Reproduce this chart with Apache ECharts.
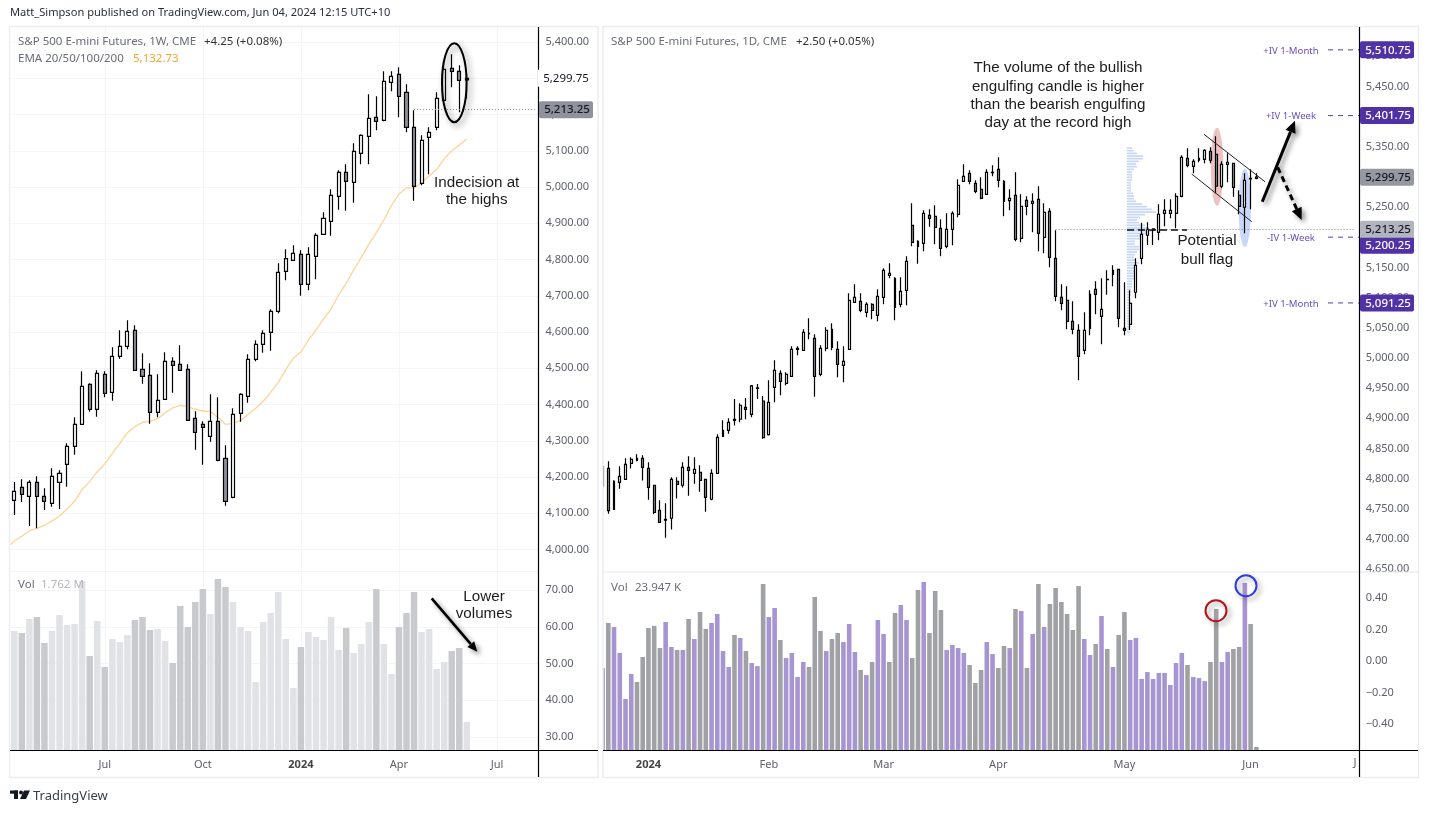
<!DOCTYPE html>
<html>
<head>
<meta charset="utf-8">
<title>S&amp;P 500 E-mini Futures</title>
<script src="https://cdn.jsdelivr.net/npm/echarts@6/dist/echarts.min.js"></script>
<style>
html, body { margin: 0; padding: 0; background: #fff; }
#chart { width: 1429px; height: 813px; }
</style>
</head>
<body>
<div id="chart"></div>
<script>
// weekly chart (left)
const weekOpen = [4135.7,4171.5,4146.7,4185.3,4146.7,4127.4,4185.3,4235,4284.6,4345.3,
  4455.6,4386.7,4483.2,4433.6,4532.9,4560.5,4604.6,4497,4480.5,4378.4,
  4414.3,4519.1,4510.8,4497,4361.9,4345.3,4312.2,4353.6,4251.5,4143.9,
  4375.7,4422.5,4524.6,4566,4599.1,4657,4767.4,4797.7,4814.3,4731.5,
  4808.8,4869.4,4905.3,4974.3,5040.5,5012.9,5092.9,5139.8,5192.2,5183.9,
  5288.7,5310.8,5261.2,5164.6,5010.1,5137,5164.6,5239.1,5327.4,5319.1,5295.5];
const weekClose = [4160.5,4152.2,4185.3,4146.7,4132.9,4201.9,4210.1,4284.6,4345.3,4450.1,
  4386.7,4486,4430.8,4532.9,4560.5,4601.8,4494.3,4477.7,4378.4,4411.5,
  4519.1,4508.1,4494.3,4356.3,4323.2,4337,4353.6,4246,4132.9,4372.9,
  4428,4524.6,4566,4596.3,4657,4764.6,4802.3,4817,4731.5,4814.3,
  4866.7,4913.6,4977,5040.5,5015.6,5098.4,5142.5,5189.4,5181.2,5291.5,
  5305.3,5250.1,5164.6,5001.9,5128.8,5150.8,5244.6,5324.6,5319.1,5294.3,5299.75];
const weekLow = [4095.2,4131.1,4064.9,4058.4,4109,4118.2,4111.8,4173.4,4261.6,4345.3,
  4380.2,4366.4,4419.8,4410.6,4526.5,4552.2,4494.3,4457.5,4347.1,4364.6,
  4414.3,4432.7,4494.3,4356.3,4275.4,4234.1,4297.5,4243.2,4120.9,4141.2,
  4352.7,4405.1,4519.1,4543,4548.5,4651.5,4742.5,4797.7,4700.3,4715,
  4745.3,4869.4,4865.8,4937.5,4934.7,4956.8,5062.5,5062.5,5156.3,5181.2,
  5263.9,5192.2,5150.8,4962.3,5004.6,5035,5156.3,5236.3,5275,5206,5244.6];
const weekHigh = [4186.2,4193.6,4190.8,4201.9,4168.8,4223.9,4218.4,4292.9,4364.6,4491.5,
  4458.4,4494.3,4491.5,4557.7,4604.6,4632.2,4618.4,4541.2,4513.6,4483.2,
  4544,4530.1,4563.2,4510.8,4381.2,4353.6,4428,4419.8,4287.4,4389.4,
  4430.8,4538.4,4577,4604.6,4662.5,4789.4,4828,4839.1,4825.3,4833.6,
  4872.2,4930.1,4993.6,5046,5062.5,5120.5,5145.3,5255.6,5250.1,5319.1,
  5319.1,5330.1,5283.2,5211.5,5142.5,5164.6,5261.2,5346.7,5366,5335.6,5313.6];
const weekEma = [4023.5,4036.4,4052,4058.4,4066.7,4078.7,4092.4,4111.8,4132.9,4166,
  4187.2,4214.7,4235.9,4265.3,4292.9,4322.3,4338.9,4350.8,4353.6,4360.9,
  4377.5,4390.4,4397.7,4394,4386.7,4382.1,4380.2,4364.6,4345.3,4348.1,
  4355.4,4372.9,4389.4,4408.7,4433.6,4461.2,4497,4527.4,4544.8,4578,
  4605.5,4635.9,4663.4,4702.1,4734.3,4771,4806,4841.9,4874,4909,
  4948.5,4980.7,4998.2,4997.3,5012,5030.4,5048.8,5078.2,5100.2,5115.9,5132.73];
const weekEmaStart = 4014;
const weekVol = [58.84,58.3,62.1,62.65,55.6,58.84,63.2,60.47,60.75,72.45,
  52.04,61.56,49.05,56.66,55.85,57.75,61.83,62.65,59.11,59.39,
  56.12,50.13,65.64,59.93,66.73,70.27,63.47,73,70.81,66.73,
  59.93,58.84,44.96,61.29,63.74,69.45,56.66,43.33,54.49,58.57,
  57.21,56.39,62.65,53.67,59.66,52.86,55.3,61.29,70.27,55.3,
  47.14,59.93,63.74,69.45,58.57,59.39,48.5,50.41,53.4,54.22,34.08];
const weekTickIdx = [12, 25, 38, 51, 64];
const weekTickText = ['Jul', 'Oct', '2024', 'Apr', 'Jul'];
const weekPriceTicks = [4000,4100,4200,4300,4400,4500,4600,4700,4800,4900,5000,5100,5200,5300,5400];
const weekVolTicks = [30, 40, 50, 60, 70];

// daily chart (right)
const dayOpen = [4819.9,4817.1,4749.2,4793.9,4798.9,4825.4,4833.7,4833.7,4817.1,4789,
  4747.5,4732.6,4734.3,4795.6,4789,4818.8,4808.8,4810.5,4798.9,4765.8,
  4808.8,4870.2,4880.1,4898.4,4898.4,4918.2,4906.6,4949.5,4928.7,4873,
  4951.4,4974.6,4958,4969.6,5016,5012.7,5040.3,5032.6,4972.9,5016,
  5047.5,5014.3,4987.8,5014.3,5092.3,5093.9,5075.7,5088.9,5070.7,5100.5,
  5137,5132,5088.9,5112.2,5219.9,5193.4,5190.1,5236.5,5234.8,5214.9,
  5185.1,5213.2,5238.1,5292.8,5306.1,5289.5,5279.6,5271.3,5307.2,5312.7,
  5292.8,5260.8,5269.6,5198.3,5261.3,5256.4,5263,5200,5243.1,5165.2,
  5100.5,5095.6,5060.8,5045.8,5012.7,5049.2,5113.8,5069,5129.8,5138.7,
  5146.9,5049.2,5055.8,5108.9,5165.2,5203.4,5213.9,5208.3,5239.8,5239.8,
  5239.8,5268,5331,5317.7,5327.7,5329.3,5342.6,5337.6,5284.6,5321,
  5322.7,5269.7,5249.8,5297.8,5297.5];
const dayClose = [4787.9,4747,4795.6,4803.9,4823.8,4832,4830.4,4818.8,4785.6,4744.2,
  4727.6,4731,4798.9,4790.6,4818.8,4813.8,4815.5,4797.2,4769.1,4808.8,
  4868.5,4880.1,4893.4,4896.7,4921.6,4914.9,4953.6,4950.5,4868,4926.5,
  4979.5,4961.3,4972.9,5014.3,5014.3,5042.5,5040.9,4969.6,5016,5045.8,
  5017.7,4989.5,4994.5,5095.6,5100.5,5079,5088.9,5079,5102.2,5145.3,
  5140.3,5084,5110.5,5160.2,5191.7,5185.1,5239.8,5231.5,5216.6,5181.8,
  5213.2,5239.8,5286.2,5301.1,5292.8,5276.2,5264.6,5307.7,5307.7,5294.5,
  5259.7,5264.6,5196.7,5251.4,5251.4,5259.7,5206.6,5241.4,5166.8,5102.2,
  5090.6,5060.8,5047.5,5002.8,5045.8,5105.5,5105.5,5080.7,5130.4,5145.3,
  5065.7,5045.8,5090.6,5153.6,5205,5213.3,5212.2,5238.2,5244.8,5244.8,
  5268,5332.6,5319.4,5326,5331,5344.2,5327.7,5284.6,5321,5324.4,
  5282.9,5251.4,5294.5,5296.7,5299.75];
const dayLow = [4784,4742,4749.2,4783.4,4798.9,4816.6,4828.7,4796.7,4765.2,4740.9,
  4727.6,4702.2,4715.5,4766.9,4785.1,4771.8,4791.7,4778.4,4745.3,4764.1,
  4808.8,4870.2,4874.6,4887.9,4893.4,4898.4,4901.7,4932,4866.3,4871.3,
  4926.5,4938.1,4954.7,4969.6,5004.4,5012.7,5030.9,4935.9,4969.6,5011,
  5012.7,4967.9,4959.6,5014.3,5092.3,5075.7,5067.4,5064.1,5060.8,5088.9,
  5132,5062.4,5084,5087.3,5185.1,5156.3,5176.8,5217.7,5188.4,5168.5,
  5181.8,5186.7,5233.1,5292.8,5287.8,5272.9,5263,5271.3,5301.1,5282.9,
  5234.8,5244.7,5193.4,5191.7,5236.5,5208.3,5176.8,5173.5,5150.3,5093.9,
  5079,5047.5,5039.2,4963,5006,5037.6,5072.4,5022.6,5105,5118.8,
  5050.8,5037.6,5046.4,5098.9,5155.3,5187.4,5187.4,5195.1,5218.3,5231.5,
  5214.9,5266.3,5316.1,5306.1,5324.4,5322.7,5322.7,5273,5281.3,5291.2,
  5267.4,5238.2,5206.7,5246.4,5296.2];
const dayHigh = [4825.4,4828.7,4797.2,4820.4,4833.7,4835.4,4840.3,4838.7,4827.1,4789,
  4764.1,4759.1,4802.2,4802.2,4827.1,4837,4835.4,4822.1,4798.9,4815.5,
  4873.5,4896.7,4900,4932,4924.9,4933.7,4955.3,4956.9,4937,4963,
  4996.1,4979.5,4976.2,5019.3,5019.3,5047.5,5065.7,5039.2,5021,5050.8,
  5057.5,5027.6,5019.3,5107.2,5122.1,5107.2,5092.3,5090.6,5113.8,5148.6,
  5156.9,5133.7,5133.7,5168.5,5256.4,5195,5244.7,5246.4,5253,5229.8,
  5239.8,5243.1,5296.1,5321,5311,5294.5,5299.4,5312.7,5319.3,5332.6,
  5294.5,5279.6,5307.7,5271.3,5267.9,5272.9,5284.5,5256.4,5248.1,5211.6,
  5122.1,5118.8,5093.9,5055.8,5075.7,5112.1,5127.1,5132,5145.3,5153.6,
  5146.9,5125.4,5112.2,5165.2,5224.3,5224.9,5214,5254.7,5263,5263,
  5273,5336,5347.6,5329.3,5347.6,5345.9,5349.2,5367.4,5326,5339.3,
  5322.7,5277.9,5306.1,5312.8,5306.1];
const dayVol = [-.044,.241,.215,.051,-.24,-.082,-.133,.025,.209,.222,
  .082,.247,.089,.07,.07,.266,.139,.31,.203,.241,
  .298,.063,-.038,.165,.146,.063,-.013,-.032,.487,.279,
  .335,.133,.019,.051,-.101,-.006,-.038,.405,.19,.063,
  .139,.177,.12,.234,.057,-.057,-.089,-.006,.26,.171,
  -.006,.304,.354,.26,.019,.449,.5,.177,.443,.323,
  .07,.101,.082,.051,-.025,-.139,-.057,.12,.044,-.044,
  .095,.082,.329,.317,-.044,.171,.487,.215,.361,.462,
  .373,.298,.196,.475,.139,.038,.108,.285,.076,-.038,
  .165,.31,.133,.146,-.114,-.07,-.114,-.076,-.076,-.152,
  -.013,.051,-.025,-.101,-.108,-.127,-.006,.329,-.006,.057,
  .076,.089,.494,.234,-.544];
const dayVolGrey = [0,1,0,0,0,0,1,1,1,1,
  1,0,0,1,0,1,0,1,1,0,
  0,0,0,1,0,1,0,0,1,0,
  0,1,0,0,0,0,1,1,1,0,
  1,1,0,0,0,1,0,1,0,0,
  1,1,0,0,1,1,0,1,1,1,
  0,0,0,0,1,1,1,0,0,1,
  1,0,1,0,1,0,1,0,1,1,
  1,1,1,1,0,0,1,0,1,0,
  1,1,0,0,0,0,0,0,0,0,
  0,0,1,0,0,0,1,1,0,0,
  1,1,0,1,1];
const dayTickIdx = [8, 29, 49, 69, 91, 113];
const dayTickText = ['2024', 'Feb', 'Mar', 'Apr', 'May', 'Jun'];
const dayPriceTicks = [4650,4700,4750,4800,4850,4900,4950,5000,5050,5100,5150,5200,5250,5300,5350,5400,5450,5500];
const dayVolTicks = [-0.4, -0.2, 0, 0.2, 0.4];

// volume profile, top row first
const profileTop = 5348;
const profileStep = 4.42;
const profileSize = [5,7,10,16,16,12,9,10,7,5,5,5,5,4,4,4,4,6,7,7,9,15,20,25,29,18,13,10,12,18,22,27,20,15,13,8,8,12,12,10,8,7,9,12,8,8,9,7,7,7,5,5,5,4,4,4,3,3,4,4,3,3,3,3,4,3,3,3,3,3];

const ivLevels = [5510.75, 5401.75, 5200.25, 5091.25];
const ivNames = ['+IV 1-Month', '+IV 1-Week', '-IV 1-Week', '+IV 1-Month'];
const lastWeekly = 5213.25;
const lastClose = 5299.75;

const uiFont = '"Noto Sans", sans-serif';
const noteFont = '"Liberation Sans", Arial, sans-serif';
const noteSize = '15.2px ';
const labelColor = '#5d606b';
const gridColor = '#f5f5f8';

function tickCategories(n, idx, text) {
  const cats = new Array(n).fill('');
  idx.forEach((k, j) => { cats[k] = text[j]; });
  return cats;
}
const weekCats = tickCategories(70, weekTickIdx, weekTickText);
const dayCats = tickCategories(132, dayTickIdx, dayTickText);

const fmtPrice = v => v.toLocaleString('en-US', {minimumFractionDigits: 2, maximumFractionDigits: 2});
const fmtVol = v => v.toFixed(2).replace('-', '\u2212');

function ohlc(o, c, l, h) {
  return o.map((v, i) => [v, c[i], l[i], h[i]]);
}

// pane limits
const weekMin = 3940.7, weekMax = 5441.4;
const dayMin = 4646.9, dayMax = 5548.6;
const weekVolMin = 26.46, weekVolMax = 74.9;
const dayVolMin = -0.563, dayVolMax = 0.563;

function xAxisFor(grid, cats, withLabels, showSplit) {
  return {
    type: 'category', gridIndex: grid, data: cats, boundaryGap: true,
    axisLine: {show: false}, axisTick: {show: false},
    axisLabel: {
      show: withLabels, interval: (i, v) => v !== '', margin: 9, color: labelColor, fontSize: 11, fontFamily: uiFont,
      formatter: v => v === '2024' ? '{b|2024}' : v,
      rich: {b: {fontWeight: 'bold', fontSize: 11, fontFamily: uiFont, color: '#444'}}
    },
    splitLine: {show: showSplit, alignWithLabel: true, interval: (i, v) => v !== '', lineStyle: {color: gridColor}}
  };
}
function yAxisFor(grid, min, max, ticks, fmt, margin, showSplit) {
  return {
    type: 'value', gridIndex: grid, position: 'right', min: min, max: max, scale: true,
    axisLine: {show: false},
    axisTick: {show: false, customValues: ticks},
    axisLabel: {customValues: ticks, formatter: fmt, margin: margin, padding: [2, 0, 0, 0], color: labelColor, fontSize: 11, fontFamily: uiFont},
    splitLine: {show: showSplit, lineStyle: {color: gridColor}}
  };
}
function hiddenAxis(grid, range) {
  return {type: 'value', gridIndex: grid, min: 0, max: range, show: false};
}
function levelLine(from, to, value) {
  return {
    silent: true, symbol: 'none', animation: false, label: {show: false},
    lineStyle: {color: '#888b96', type: [1, 2], width: 1},
    data: [[{coord: [from, value]}, {coord: [to, value]}]]
  };
}
const candleStyle = {color: '#ffffff', color0: '#8f929c', borderColor: '#000000', borderColor0: '#000000', borderWidth: 1.2};

const chart = echarts.init(document.getElementById('chart'), null, {renderer: 'canvas'});

chart.setOption({
  animation: false,
  backgroundColor: '#ffffff',
  grid: [
    {left: 10.5, top: 27, width: 528, height: 544},
    {left: 10.5, top: 572, width: 528, height: 178},
    {left: 599.7, top: 27, width: 757, height: 544},
    {left: 599.7, top: 572, width: 757, height: 178}
  ],
  xAxis: [
    xAxisFor(0, weekCats, false, true),
    xAxisFor(1, weekCats, true, true),
    xAxisFor(2, dayCats, false, false),
    xAxisFor(3, dayCats, true, false)
  ],
  yAxis: [
    yAxisFor(0, weekMin, weekMax, weekPriceTicks, fmtPrice, 7, true),
    yAxisFor(1, weekVolMin, weekVolMax, weekVolTicks, v => v.toFixed(2), 7, true),
    hiddenAxis(1, weekVolMax - weekVolMin),
    yAxisFor(2, dayMin, dayMax, dayPriceTicks, fmtPrice, 9, false),
    yAxisFor(3, dayVolMin, dayVolMax, dayVolTicks, fmtVol, 9, false),
    hiddenAxis(3, dayVolMax - dayVolMin)
  ],
  series: [
    {
      name: 'EMA', type: 'line', xAxisIndex: 0, yAxisIndex: 0, data: weekEma, showSymbol: false, z: 3,
      lineStyle: {color: '#fdd39a', width: 1.3}
    },
    {
      name: '1W', type: 'candlestick', xAxisIndex: 0, yAxisIndex: 0, data: ohlc(weekOpen, weekClose, weekLow, weekHigh),
      barWidth: 3.6, itemStyle: candleStyle, z: 4,
      markLine: levelLine(53, 69, lastWeekly)
    },
    {
      name: 'Vol 1W', type: 'bar', xAxisIndex: 1, yAxisIndex: 2, barWidth: 6.5,
      data: weekVol.map((v, i) => ({
        value: v - weekVolMin,
        itemStyle: {color: weekClose[i] < weekOpen[i] ? '#c9cace' : '#e1e2e6'}
      }))
    },
    {
      name: 'Profile', type: 'custom', xAxisIndex: 2, yAxisIndex: 3, z: 2, silent: true,
      data: profileSize.map((s, i) => [91, profileTop - i * profileStep, s]),
      renderItem: (params, api) => {
        const p = api.coord([api.value(0), api.value(1)]);
        return {type: 'rect', shape: {x: p[0] + 2.5, y: p[1] - 0.85, width: api.value(2), height: 1.7}, style: {fill: '#c7d6f7'}};
      }
    },
    {
      name: '1D', type: 'candlestick', xAxisIndex: 2, yAxisIndex: 3, data: ohlc(dayOpen, dayClose, dayLow, dayHigh),
      barWidth: 2.4, itemStyle: candleStyle, z: 4,
      markLine: levelLine(79, 131, lastWeekly)
    },
    {
      name: 'Vol 1D', type: 'bar', xAxisIndex: 3, yAxisIndex: 5, barWidth: 4.6,
      data: dayVol.map((v, i) => ({
        value: v - dayVolMin,
        itemStyle: {color: dayVolGrey[i] ? '#a0a1a4' : '#a795d2'}
      }))
    }
  ]
});

const yWeek = v => chart.convertToPixel({yAxisIndex: 0}, v);
const yDay = v => chart.convertToPixel({yAxisIndex: 3}, v);

function text(x, y, str, color, font, align, extra) {
  return {
    type: 'text', x: x, y: y, z: 60, silent: true,
    style: Object.assign({text: str, fill: color, font: font, align: align || 'left', verticalAlign: 'middle'}, extra || {})
  };
}
function line(x1, y1, x2, y2, color, width, z, dash) {
  return {
    type: 'line', z: z || 40, silent: true,
    shape: {x1: x1, y1: y1, x2: x2, y2: y2},
    style: {stroke: color, lineWidth: width, lineDash: dash || null}
  };
}
function box(x, y, w, h, fill, z, r) {
  return {type: 'rect', z: z || 50, silent: true, shape: {x: x, y: y, width: w, height: h, r: r || 0}, style: {fill: fill}};
}
function priceTag(x, w, cy, str, fill, color) {
  return [box(x, cy - 8.5, w, 17, fill, 55, 2),
    text(x + w / 2 + 1, cy + 0.5, str, color, '500 11.5px ' + uiFont, 'center')];
}
// arrow with a shadow, like the drawing tool in the picture
function arrow(x1, y1, x2, y2, width, head, dash) {
  const a = Math.atan2(y2 - y1, x2 - x1);
  const back = [x2 - head * Math.cos(a), y2 - head * Math.sin(a)];
  const nx = -Math.sin(a) * head * 0.45, ny = Math.cos(a) * head * 0.45;
  const shadow = {shadowBlur: 5, shadowColor: 'rgba(0,0,0,0.45)', shadowOffsetX: 3, shadowOffsetY: 3};
  return [
    {
      type: 'line', z: 58, silent: true, shape: {x1: x1, y1: y1, x2: back[0], y2: back[1]},
      style: Object.assign({stroke: '#000', lineWidth: width, lineDash: dash || null}, shadow)
    },
    {
      type: 'polygon', z: 58, silent: true,
      shape: {points: [[x2, y2], [back[0] + nx, back[1] + ny], [back[0] - nx, back[1] - ny]]},
      style: Object.assign({fill: '#000'}, shadow)
    }
  ];
}
function ellipse(cx, cy, rx, ry, style, z) {
  return {type: 'ellipse', z: z, silent: true, shape: {cx: cx, cy: cy, rx: rx, ry: ry}, style: style};
}

const frame = '#ecedf3';
const legendFont = '11.5px ' + uiFont;
let g = [
  // panes
  box(598, 20, 5, 760, '#ffffff', 30),
  {type: 'rect', z: 35, silent: true, shape: {x: 9.5, y: 26.5, width: 588.5, height: 751}, style: {fill: null, stroke: frame, lineWidth: 1.5}},
  {type: 'rect', z: 35, silent: true, shape: {x: 603, y: 26.5, width: 815.5, height: 751}, style: {fill: null, stroke: frame, lineWidth: 1.5}},
  line(603, 572, 1419, 572, '#e6e6f0', 1, 36),
  line(10, 571.5, 538, 571.5, '#f4f4f7', 1, 1),
  box(1360, 572.5, 58, 6, '#ffffff', 30),
  line(10, 750.5, 598, 750.5, '#000', 1.2),
  line(603, 750.5, 1418, 750.5, '#000', 1.2),
  line(538.5, 27, 538.5, 777, '#000', 1.2),
  line(1359.5, 27, 1359.5, 777, '#000', 1.2),
  text(1355, 763, 'J', labelColor, '11px ' + uiFont, 'center'),
  line(10.5, yWeek(weekEmaStart), 14.3, yWeek(weekEma[0]), '#fdd39a', 1.3, 3),

  // header and legends
  text(10, 13, 'Matt_Simpson published on TradingView.com, Jun 04, 2024 12:15 UTC+10', '#2a2e39', '11.1px ' + uiFont),
  text(18, 41.5, 'S&P 500 E-mini Futures, 1W, CME', '#6a6d78', legendFont),
  text(204, 41.5, '+4.25 (+0.08%)', '#333', legendFont),
  text(18, 58.5, 'EMA 20/50/100/200', '#6a6d78', legendFont),
  text(133, 58.5, '5,132.73', '#f7a52e', legendFont),
  text(611, 41.5, 'S&P 500 E-mini Futures, 1D, CME', '#6a6d78', legendFont),
  text(796, 41.5, '+2.50 (+0.05%)', '#333', legendFont),
  text(18, 584.5, 'Vol', '#6a6d78', legendFont),
  text(41, 584.5, '1.762 M', '#b2b5be', legendFont),
  text(611, 587.5, 'Vol', '#6a6d78', legendFont),
  text(635, 587.5, '23.947 K', '#6a6d78', legendFont),

  // logo and wordmark
  box(10, 790.5, 8, 3.2, '#131722', 60),
  box(14, 790.5, 4, 8.5, '#131722', 60),
  {type: 'circle', z: 60, silent: true, shape: {cx: 21, cy: 792.5, r: 2}, style: {fill: '#131722'}},
  {type: 'polygon', z: 60, silent: true, shape: {points: [[24, 790.5], [30, 790.5], [26, 799], [20, 799]]}, style: {fill: '#131722'}},
  text(33, 796, 'TradingView', '#3a3e49', '13px ' + uiFont),

  // notes
  text(476.7, 191.5, 'Indecision at\nthe highs', '#1c1c1c', noteSize + noteFont, 'center', {lineHeight: 17.5}),
  text(484, 605.5, 'Lower\nvolumes', '#1c1c1c', noteSize + noteFont, 'center', {lineHeight: 17.5}),
  text(1058, 95.5, 'The volume of the bullish\nengulfing candle is higher\nthan the bearish engulfing\nday at the record high', '#1c1c1c', noteSize + noteFont, 'center', {lineHeight: 18.3}),
  text(1207, 250.5, 'Potential\nbull flag', '#1c1c1c', noteSize + noteFont, 'center', {lineHeight: 19}),

  // drawings
  ellipse(454.3, 82.7, 12.3, 39.5, {fill: null, stroke: '#000', lineWidth: 2, shadowBlur: 6, shadowColor: 'rgba(0,0,0,0.45)', shadowOffsetX: 3, shadowOffsetY: 3}, 58),
  ellipse(1217, 166.7, 6.3, 39, {fill: 'rgba(214,120,120,0.45)'}, 1),
  ellipse(1244.8, 207.7, 6.2, 39.3, {fill: 'rgba(120,155,240,0.4)'}, 1),
  line(1204, 134.3, 1265, 181.7, '#222', 1, 45),
  line(1191.7, 174, 1251.7, 221.7, '#222', 1, 45),
  line(1127, 230, 1187, 230, '#111', 1.3, 45, [7, 4]),
  ellipse(1216, 610.7, 10.5, 10.5, {fill: null, stroke: '#b5131a', lineWidth: 2, shadowBlur: 5, shadowColor: 'rgba(0,0,0,0.35)', shadowOffsetX: 3, shadowOffsetY: 3}, 58),
  ellipse(1246, 585.7, 10.5, 10.5, {fill: null, stroke: '#2a3ce8', lineWidth: 2, shadowBlur: 5, shadowColor: 'rgba(0,0,0,0.35)', shadowOffsetX: 3, shadowOffsetY: 3}, 58)
];
g = g.concat(
  arrow(431.7, 598.3, 477.3, 651.7, 2.6, 10),
  arrow(1262.3, 201.7, 1295, 120.7, 3, 12),
  arrow(1277.7, 167.3, 1301.7, 220, 3, 12, [6, 4])
);

// implied volatility levels on the daily chart
ivLevels.forEach((v, i) => {
  const y = yDay(v);
  g.push(line(1328, y, 1359, y, '#5b3cb0', 1, 45, [5, 5]));
  g.push(text(1291, y + 1, ivNames[i], '#6a4fc0', '9.6px ' + uiFont, 'center'));
});

// price tags on the axes; the -IV tag is pushed down by the tag above it
const purple = '#5031a6';
g = g.concat(
  [box(537.8, yWeek(lastClose) - 8.5, 56, 17, '#ffffff', 45)],
  [text(566, yWeek(lastClose) + 0.5, fmtPrice(lastClose), '#131722', '11.5px ' + uiFont, 'center', {})],
  priceTag(539, 54, yWeek(lastWeekly), fmtPrice(lastWeekly), '#8f929c', '#131722'),
  priceTag(1360, 54, yDay(lastClose), fmtPrice(lastClose), '#9598a1', '#131722'),
  priceTag(1360, 54, yDay(5510.75), fmtPrice(5510.75), purple, '#ffffff'),
  priceTag(1360, 54, yDay(5401.75), fmtPrice(5401.75), purple, '#ffffff'),
  priceTag(1360, 54, yDay(5091.25), fmtPrice(5091.25), purple, '#ffffff'),
  priceTag(1360, 54, yDay(5200.25) + 8, fmtPrice(5200.25), purple, '#ffffff'),
  priceTag(1360, 54, yDay(lastWeekly), fmtPrice(lastWeekly), '#b2b5be', '#131722')
);

chart.setOption({graphic: {elements: g}});
</script>
</body>
</html>
